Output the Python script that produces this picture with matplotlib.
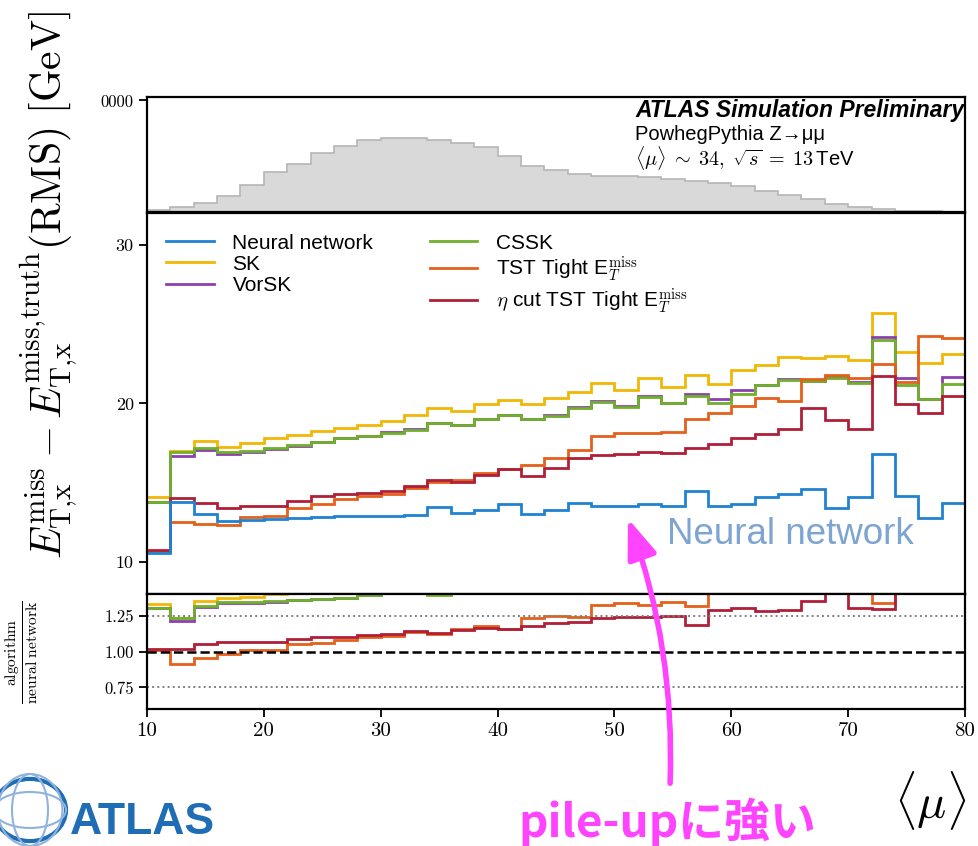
import numpy as np
import matplotlib.pyplot as plt
from matplotlib.patches import FancyArrowPatch, Circle, Ellipse

plt.rcParams['font.family'] = ['Liberation Sans', 'DejaVu Sans']
plt.rcParams['mathtext.fontset'] = 'cm'

# pile-up bins <mu>, 10..80 in steps of 2
mu_edges = np.arange(10, 82, 2)

# RMS of Ex residual [GeV] per mu bin
nn = [10.59, 13.77, 13.07, 12.59, 12.69, 12.73, 12.80, 12.86, 12.94, 12.90, 12.90, 12.95,
      13.45, 13.09, 13.28, 13.70, 13.07, 13.28, 13.74, 13.55, 13.55, 13.70, 13.55, 14.46,
      13.55, 13.70, 14.12, 14.27, 14.61, 13.39, 14.08, 16.81, 14.16, 12.76, 13.74]
sk = [14.08, 17.02, 17.63, 17.27, 17.53, 17.84, 18.01, 18.27, 18.43, 18.64, 18.90, 19.30,
      19.70, 19.55, 19.97, 20.22, 19.97, 20.33, 20.71, 21.31, 20.85, 21.59, 21.02, 21.82,
      21.21, 22.11, 22.43, 22.91, 22.85, 23.02, 22.74, 25.73, 23.27, 22.58, 23.10]
vorsk = [13.77, 16.69, 17.10, 16.81, 16.96, 17.12, 17.35, 17.59, 17.80, 17.95, 18.18, 18.40,
         18.80, 18.66, 19.05, 19.30, 19.05, 19.27, 19.75, 20.15, 19.82, 20.47, 20.05, 20.60,
         20.30, 20.85, 21.17, 21.53, 21.42, 21.65, 21.37, 24.18, 21.59, 20.28, 21.69]
cssk = [13.77, 16.96, 17.17, 16.96, 17.02, 17.17, 17.38, 17.59, 17.80, 17.95, 18.16, 18.36,
        18.75, 18.64, 19.02, 19.27, 19.02, 19.23, 19.70, 20.11, 19.80, 20.43, 20.01, 20.48,
        20.01, 20.60, 21.17, 21.48, 21.42, 21.59, 21.27, 24.01, 21.17, 20.28, 21.23]
tst = [10.70, 12.54, 12.44, 12.33, 12.82, 12.90, 13.43, 13.66, 13.96, 14.16, 14.29, 14.68,
       15.07, 15.17, 15.60, 15.85, 16.12, 16.54, 17.07, 17.97, 18.12, 18.16, 18.22, 19.04,
       19.42, 19.84, 20.37, 20.16, 21.55, 21.80, 21.59, 22.47, 21.38, 24.28, 24.15]
eta_tst = [10.76, 14.02, 13.74, 13.39, 13.53, 13.57, 13.87, 14.16, 14.29, 14.37, 14.48, 14.80,
           15.17, 15.07, 15.49, 15.85, 15.43, 15.91, 16.54, 16.75, 16.79, 16.96, 16.86, 17.17,
           17.44, 17.80, 18.08, 18.37, 19.70, 18.96, 18.37, 21.74, 19.97, 19.42, 20.49]

# <mu> distribution (events per bin)
mu_counts = [500, 1500, 2600, 4800, 8000, 11800, 14300, 17600, 19600, 21500, 22100, 22000,
             21500, 20500, 19300, 16800, 13800, 12600, 11300, 10800, 10800, 10300, 9800, 9100,
             8600, 7800, 6300, 5100, 3800, 2500, 1500, 800, 300, 200, 100]

labels = ['SK', 'VorSK', 'CSSK', r'TST Tight E$_{T}^{\rm miss}$', r'$\eta$ cut TST Tight E$_{T}^{\rm miss}$']
series = [sk, vorsk, cssk, tst, eta_tst]
colors = ['#f2b705', '#8e3fae', '#6fb02c', '#e5601a', '#b01f38']
nn_color = '#1f82d2'

fig = plt.figure(figsize=(9.79, 8.46), dpi=100)
L, W = 147 / 979, 818 / 979
ax_top = fig.add_axes([L, 1 - 212 / 846, W, 115 / 846])
ax = fig.add_axes([L, 1 - 594 / 846, W, 381 / 846])
ax_r = fig.add_axes([L, 1 - 709 / 846, W, 115 / 846])

# top: mu distribution
ax_top.stairs(mu_counts, mu_edges, fill=True, color='#d9d9d9')
ax_top.stairs(mu_counts, mu_edges, color='#b5b5b5', lw=1.2, baseline=None)
ax_top.set_xlim(10, 80)
ax_top.set_ylim(0, 34300)
ax_top.set_xticks([])
ax_top.set_yticks([33300], ['0000'], fontfamily='cmr10', fontsize=12)

# main panel
for vals, lab, c in zip(series, labels, colors):
    ax.stairs(vals, mu_edges, color=c, lw=2, baseline=None, label=lab)
ax.stairs(nn, mu_edges, color=nn_color, lw=2, baseline=None, label='Neural network')
ax.set_xlim(10, 80)
ax.set_ylim(8, 32)
ax.set_xticks([])
ax.set_yticks([10, 20, 30], ['10', '20', '30'], fontfamily='cmr10', fontsize=13)

h, l = ax.get_legend_handles_labels()
order = [5, 0, 1, 2, 3, 4]
ax.legend([h[i] for i in order], [l[i] for i in order], ncol=2, loc='upper left',
          frameon=False, fontsize=15, handlelength=2.3, handletextpad=0.9,
          columnspacing=2.7, labelspacing=0.1, bbox_to_anchor=(0.0, 0.995))

# ratio panel
nn_arr = np.array(nn)
for vals, c in zip(series, colors):
    ax_r.stairs(np.array(vals) / nn_arr, mu_edges, color=c, lw=2, baseline=None)
ax_r.axhline(1.0, color='black', ls='--', lw=1.8)
ax_r.axhline(1.25, color='grey', ls=':', lw=1.4)
ax_r.axhline(0.75, color='grey', ls=':', lw=1.4)
ax_r.set_xlim(10, 80)
ax_r.set_ylim(0.6, 1.4)
ax_r.set_yticks([0.75, 1.0, 1.25], ['0.75', '1.00', '1.25'], fontfamily='cmr10', fontsize=12)
ax_r.set_xticks(range(10, 81, 10), [str(v) for v in range(10, 81, 10)],
                fontfamily='cmr10', fontsize=15)

for a in (ax_top, ax, ax_r):
    for s in a.spines.values():
        s.set_linewidth(1.6)
    a.tick_params(direction='out', length=6, width=1.3)

# labels
fig.text(48 / 979, 1 - 285 / 846,
         r'$E_{\rm T{,}x}^{\rm miss} - E_{\rm T{,}x}^{\rm miss{,}truth}\mathrm{(RMS)\ [GeV]}$',
         rotation=90, fontsize=30, ha='center', va='center')
fig.text(22 / 979, 1 - 652 / 846, r'$\frac{\rm algorithm}{\rm neural\ network}$',
         rotation=90, fontsize=16, ha='center', va='center')
fig.text(930 / 979, 1 - 800 / 846, r'$\langle\mu\rangle$', fontsize=35, ha='center', va='center')

# ATLAS text block
fig.text(635 / 979, 1 - 110 / 846, 'ATLAS Simulation Preliminary', fontsize=16.5,
         fontweight='bold', fontstyle='italic', va='center')
fig.text(635 / 979, 1 - 134 / 846, 'PowhegPythia Z→μμ', fontsize=14.5, va='center')
fig.text(635 / 979, 1 - 158 / 846,
         r'$\langle\mu\rangle\;\sim\;34,\;\sqrt{s}\;=\;13\,$TeV', fontsize=14.5, va='center')

# annotations
fig.text(790 / 979, 1 - 535 / 846, 'Neural network', color='#7ea4d4', fontsize=26.5,
         ha='center', va='center')
fig.text(667 / 979, 1 - 822 / 846, 'pile-upに強い', color='#ff44ff', fontsize=33,
         fontweight='bold', family=['Noto Sans CJK JP', 'DejaVu Sans'], ha='center', va='center')
arrow = FancyArrowPatch((670 / 979, 1 - 786 / 846), (627 / 979, 1 - 516 / 846),
                        transform=fig.transFigure, connectionstyle='arc3,rad=0.1',
                        arrowstyle='-|>,head_length=12,head_width=4.5', lw=4,
                        color='#ff44ff', mutation_scale=2)
fig.patches.append(arrow)

# ATLAS logo (bottom left)
globe = Circle((30 / 979, 1 - 810 / 846), 36 / 979, transform=fig.transFigure,
               fill=False, ec='#1f6db5', lw=3)
fig.patches.append(globe)
for wdt in (0.5, 0.9):
    fig.patches.append(Ellipse((30 / 979, 1 - 810 / 846), 72 * wdt / 979, 72 / 846,
                               transform=fig.transFigure, fill=False, ec='#8fb3dc', lw=1.5))
fig.patches.append(Ellipse((30 / 979, 1 - 810 / 846), 72 / 979, 36 / 846,
                           transform=fig.transFigure, fill=False, ec='#8fb3dc', lw=1.5))
fig.text(70 / 979, 3 / 846, 'ATLAS', color='#1f6db5', fontsize=32, fontweight='bold',
         va='bottom')

fig.savefig('out.png', dpi=100)
